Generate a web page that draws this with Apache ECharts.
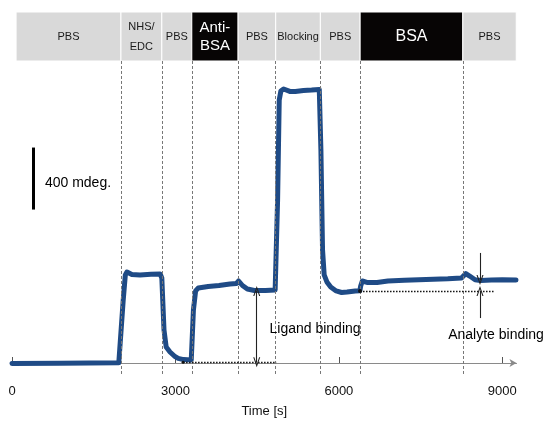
<!DOCTYPE html>
<html>
<head>
<meta charset="utf-8">
<script src="https://cdn.jsdelivr.net/npm/echarts@6/dist/echarts.min.js"></script>
<style>
html,body{margin:0;padding:0;background:#fff;}
#c{width:548px;height:423px;}
</style>
</head>
<body>
<div id="c"></div>
<script>
// ---- data ----
const timeS = [0,880,1960,1995,2040,2080,2110,2200,2350,2550,2720,2750,2790,2830,2900,2980,3050,3150,3290,3305,3330,3370,3420,3600,3800,4000,4120,4160,4230,4320,4450,4650,4830,4850,4875,4905,4935,4985,5100,5200,5350,5500,5640,5670,5700,5730,5780,5850,5950,6050,6150,6300,6385,6400,6430,6530,6700,6900,7200,7600,8000,8250,8330,8400,8500,8600,8800,9000,9250];
const signalMdeg = [-3,-2,1,4,400,568,587,571,568,572,574,548,213,103,71,45,30,22,19,30,342,465,484,494,500,510,513,529,500,477,468,468,471,480,1052,1697,1755,1768,1752,1752,1758,1761,1765,1374,729,568,523,490,465,455,458,465,466,497,529,519,519,529,534,539,543,548,577,561,537,532,535,537,535];
const phaseBounds = [75,2000,2750,3300,4150,4840,5660,6390,8275,9255];
const phaseLabels = ['PBS','NHS/\nEDC','PBS','Anti-\nBSA','PBS','Blocking','PBS','BSA','PBS'];
const phaseIsSample = [false,false,false,true,false,false,false,true,false];
const xTickValues = [0,3000,6000,9000];
const ligandBaseline = 4.5, ligandLevel = 465;
const ligandRefRange = [3140, 4850];
const analyteRefRange = [6388, 8850];
const ligandArrowT = 4492;
const analyteArrowT = 8590, analyteLevel = 535;
const analyteArrowOuter = [710, 290];
const scaleBarT = 385, scaleBarRange = [990, 1390];
const textLabels = [
  {name:'400 mdeg.', value:[1211,1159]},
  {name:'Ligand binding', value:[5562,217]},
  {name:'Analyte binding', value:[8884,181]}
];

// ---- layout ----
const FONT = '"Liberation Sans", Arial, Helvetica, sans-serif';
const yMin = -77.4, yMax = 2264.5;
const bandTop = yMax, bandBottom = 1948.4;
const chevron = 'path://M5,0 L10,10 L8.4,10 L5,3 L1.6,10 L0,10 Z';

const chart = echarts.init(document.getElementById('c'), null, {renderer:'canvas'});

const bandData = phaseLabels.map((lab,i)=>[
  {name:lab, xAxis:phaseBounds[i], yAxis:bandTop,
   itemStyle:{color: phaseIsSample[i] ? '#070505' : '#d9d9d9', borderColor:'#fff', borderWidth:1},
   label:{color: phaseIsSample[i] ? '#fff' : '#1a1a1a', fontSize: phaseIsSample[i] ? (lab==='BSA'?16:15) : 11,
          lineHeight: phaseIsSample[i] ? 18 : 20}},
  {xAxis:phaseBounds[i+1], yAxis:bandBottom}
]);

const dashedData = phaseBounds.slice(1,-1).map(t=>[
  {coord:[t,bandBottom]},{coord:[t,yMin]}
]);

const refStyle = {type:[1.5,1.5], color:'#111', width:1.4, opacity:1};
const arrowStyle = {type:'solid', color:'#222', width:1.1, opacity:1};
const arrowSize = [7,10];
const annotData = [
  [{coord:[ligandRefRange[0],ligandBaseline], symbol:'circle', symbolSize:3, lineStyle:refStyle},{coord:[ligandRefRange[1],ligandBaseline], symbol:'none'}],
  [{coord:[analyteRefRange[0],ligandLevel], symbol:'circle', symbolSize:4, lineStyle:refStyle},{coord:[analyteRefRange[1],ligandLevel], symbol:'none'}],
  [{coord:[ligandArrowT,ligandLevel], symbol:chevron, symbolSize:arrowSize, lineStyle:arrowStyle},{coord:[ligandArrowT,ligandBaseline], symbol:chevron, symbolSize:arrowSize}],
  [{coord:[analyteArrowT,analyteArrowOuter[0]], symbol:'none', lineStyle:arrowStyle},{coord:[analyteArrowT,analyteLevel], symbol:chevron, symbolSize:arrowSize}],
  [{coord:[analyteArrowT,analyteArrowOuter[1]], symbol:'none', lineStyle:arrowStyle},{coord:[analyteArrowT,ligandLevel], symbol:chevron, symbolSize:arrowSize}],
  [{coord:[scaleBarT,scaleBarRange[0]], symbol:'none', lineStyle:{type:'solid',color:'#000',width:3,opacity:1}},{coord:[scaleBarT,scaleBarRange[1]], symbol:'none'}]
];

chart.setOption({
  animation:false,
  textStyle:{fontFamily:FONT},
  grid:{left:12,right:31.5,top:12,bottom:48},
  xAxis:{
    type:'value', min:0, max:9260, interval:3000,
    axisLine:{lineStyle:{color:'#8a8a8a',width:1}, symbol:['none','arrow'], symbolSize:[6,7]},
    axisTick:{inside:true, length:6, customValues:xTickValues, lineStyle:{color:'#555'}},
    axisLabel:{customValues:xTickValues, fontSize:13, color:'#111', margin:10, fontFamily:FONT,
      formatter:(v)=>String(v)},
    splitLine:{show:false},
    name:'Time [s]', nameLocation:'middle', nameGap:30,
    nameTextStyle:{fontSize:13, color:'#111', fontFamily:FONT}
  },
  yAxis:{type:'value', min:yMin, max:yMax, show:false},
  series:[
    {
      type:'line', data:[], z:1, silent:true,
      markArea:{silent:true, label:{show:true, position:'inside', fontFamily:FONT}, data:bandData},
      markLine:{silent:true, symbol:'none', label:{show:false},
        lineStyle:{type:[3,2], color:'#777', width:1, opacity:1}, data:dashedData}
    },
    {
      type:'line', z:3, silent:true, showSymbol:false, symbol:'none',
      data: timeS.map((t,i)=>[t, signalMdeg[i]]),
      lineStyle:{color:'#1f4b86', width:5, cap:'round', join:'round'}
    },
    {
      type:'line', data:[], z:4, silent:true,
      markLine:{silent:true, symbol:'none', label:{show:false}, data:annotData}
    },
    {
      type:'scatter', z:5, silent:true, symbolSize:0,
      itemStyle:{opacity:1},
      data:textLabels,
      label:{show:true, position:'inside', formatter:'{b}', fontSize:14, color:'#000', opacity:1, fontFamily:FONT}
    }
  ]
});
</script>
</body>
</html>
